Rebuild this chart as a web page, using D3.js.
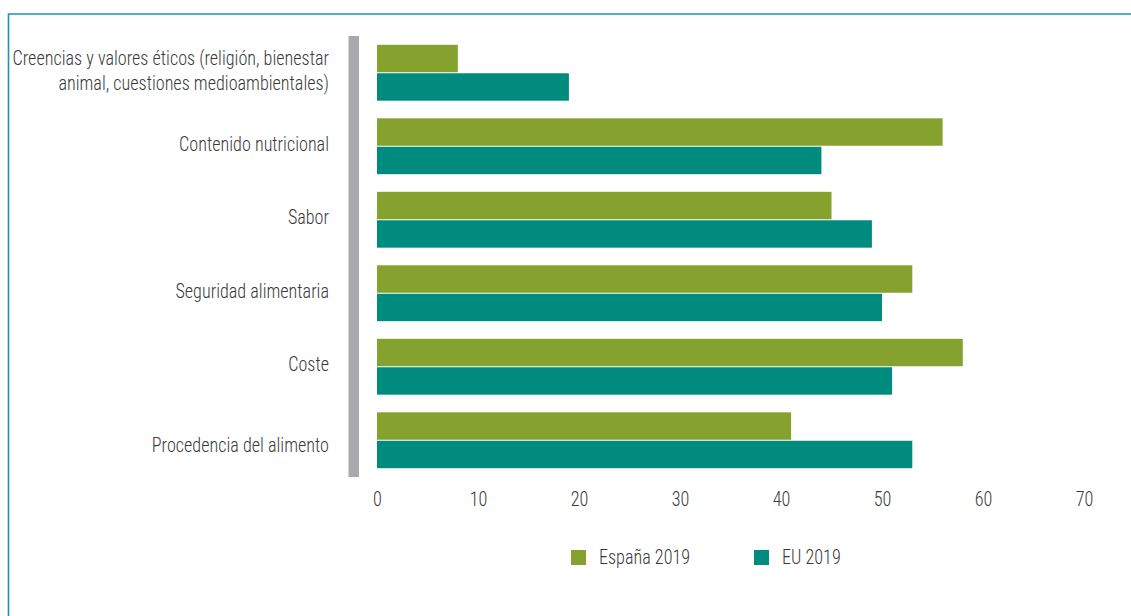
<!DOCTYPE html>
<html>
<head>
<meta charset="utf-8">
<script src="https://cdn.jsdelivr.net/npm/d3@7"></script>
<style>
  html, body { margin: 0; padding: 0; background: #fff; }
  svg { display: block; }
  text { font-family: 'Liberation Sans Narrow', 'Roboto Condensed', 'DejaVu Sans Condensed', Roboto, 'Liberation Sans', sans-serif; font-weight: 300; fill: #3a3a3a; }
</style>
</head>
<body>
<svg id="chart" width="1131" height="616"></svg>
<script>
// ---- data ----
const categories = [
  "Creencias y valores éticos (religión, bienestar\nanimal, cuestiones medioambientales)",
  "Contenido nutricional",
  "Sabor",
  "Seguridad alimentaria",
  "Coste",
  "Procedencia del alimento"
];
const seriesNames = ["España 2019", "EU 2019"];
const espana2019 = [8, 56, 45, 53, 58, 41];
const eu2019 = [19, 44, 49, 50, 51, 53];
const xTicks = [0, 10, 20, 30, 40, 50, 60, 70];
const colors = ["#84a22d", "#008b7f"];

// ---- layout ----
const W = 1131, H = 616;
const svg = d3.select("#chart");
const FONT = 20.5;
// small per-label vertical nudges as in the source layout
const labelNudge = [0, 0, 0, 0, 0, 7];

const x = d3.scaleLinear().domain([0, 70]).range([377, 1084]);
const y = d3.scaleBand().domain(categories).range([36, 477]).paddingInner(0.24).paddingOuter(0.12);
const ySub = d3.scaleBand().domain(seriesNames).range([0, y.bandwidth()]).paddingInner(0.036);

// measure to compress text horizontally like a condensed face
const probe = svg.append("text").attr("font-size", FONT).text("Contenido nutricional");
const probeW = probe.node().getComputedTextLength();
probe.remove();
const sx = Math.min(1, 150 / probeW);

function label(g, txt, px, py, anchor) {
  g.append("text")
    .attr("transform", `translate(${px},${py}) scale(${sx},1)`)
    .attr("text-anchor", anchor)
    .attr("font-size", FONT)
    .text(txt);
}

// frame
svg.append("path")
  .attr("d", `M8.5,${H} L8.5,14 L${W},14`)
  .attr("fill", "none")
  .attr("stroke", "#1a97b0")
  .attr("stroke-width", 1.6);

// gray vertical bar
svg.append("rect")
  .attr("x", 348.5).attr("y", 36)
  .attr("width", 10.5).attr("height", 441)
  .attr("fill", "#a8a9ad");

// bars
const data = categories.map((c, i) => ({ c, vals: [espana2019[i], eu2019[i]] }));
const groups = svg.append("g").selectAll("g").data(data).join("g")
  .attr("transform", d => `translate(0,${y(d.c)})`);
groups.selectAll("rect")
  .data(d => d.vals.map((v, j) => ({ s: seriesNames[j], v, j })))
  .join("rect")
  .attr("x", x(0))
  .attr("y", d => ySub(d.s))
  .attr("width", d => x(d.v) - x(0))
  .attr("height", ySub.bandwidth())
  .attr("fill", d => colors[d.j]);

// category labels
const labG = svg.append("g");
categories.forEach((c, k) => {
  const lines = c.split("\n");
  const cy = y(c) + y.bandwidth() / 2 + labelNudge[k];
  lines.forEach((ln, i) => {
    label(labG, ln, 329, cy + 4.5 + (i - (lines.length - 1) / 2) * 25, "end");
  });
});

// x axis
const axis = d3.axisBottom(x).tickValues(xTicks).tickSize(0).tickPadding(0).tickFormat(d3.format("d"));
const ax = svg.append("g").call(axis);
ax.select(".domain").remove();
ax.selectAll(".tick text").remove();
ax.selectAll(".tick").each(function(d) {
  label(d3.select(this), String(d), 0, 506, "middle");
});

// legend
const leg = svg.append("g");
const legX = [571, 754];
seriesNames.forEach((s, i) => {
  leg.append("rect").attr("x", legX[i]).attr("y", 550).attr("width", 15).attr("height", 15).attr("fill", colors[i]);
  label(leg, s, legX[i] + 28, 564, "start");
});
</script>
</body>
</html>
